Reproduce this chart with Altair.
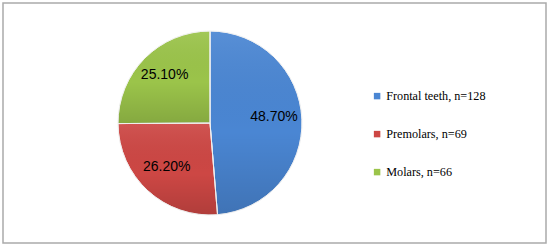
import altair as alt
import pandas as pd

# Distribution of teeth by group
categories = ["Frontal teeth", "Premolars", "Molars"]
counts = [128, 69, 66]
shares = [48.70, 26.20, 25.10]
colors = ["#4A86D3", "#CD4744", "#9BC44A"]

legend_labels = [f"{c}, n={n}" for c, n in zip(categories, counts)]
df = pd.DataFrame({
    "label": legend_labels,
    "share": shares,
    "order": list(range(len(shares))),
    "pct": [f"{s:.2f}%" for s in shares],
})

base = alt.Chart(df).encode(
    theta=alt.Theta("share:Q", stack=True),
    order=alt.Order("order:Q"),
    x=alt.value(207),
    y=alt.value(120),
)

pie = base.mark_arc(outerRadius=92, stroke="#F2F2F2", strokeWidth=0.8).encode(
    color=alt.Color(
        "label:N",
        sort=legend_labels,
        scale=alt.Scale(domain=legend_labels, range=colors),
        legend=alt.Legend(
            title=None,
            orient="none",
            legendX=368,
            legendY=87,
            symbolType="square",
            symbolSize=42,
            symbolStrokeWidth=0,
            labelFont="Liberation Serif",
            labelFontSize=12.2,
            labelColor="#000000",
            labelOffset=3,
            rowPadding=25,
        ),
    )
)

# soft top-to-bottom shading on each slice
shade = base.mark_arc(
    outerRadius=92,
    stroke="#F2F2F2",
    strokeWidth=0.8,
    fill=alt.Gradient(
        gradient="linear",
        x1=0, y1=0, x2=0, y2=1,
        stops=[
            alt.GradientStop(color="rgba(255,255,255,0.08)", offset=0),
            alt.GradientStop(color="rgba(0,0,0,0.0)", offset=0.55),
            alt.GradientStop(color="rgba(0,0,0,0.14)", offset=1),
        ],
    ),
)

labels = base.mark_text(
    radius=64, font="Liberation Sans", fontSize=14, color="#000000", dy=-3
).encode(text="pct:N")

chart = (
    (pie + shade + labels)
    .properties(
        width=543,
        height=240,
        padding={"left": 3, "top": 3, "right": 4, "bottom": 5},
        autosize=alt.AutoSizeParams(type="none"),
        background="white",
    )
    .configure_view(stroke="#ABABAB", strokeWidth=1.5)
)

chart.save("out.html", embed_options={"renderer": "svg", "actions": False})
